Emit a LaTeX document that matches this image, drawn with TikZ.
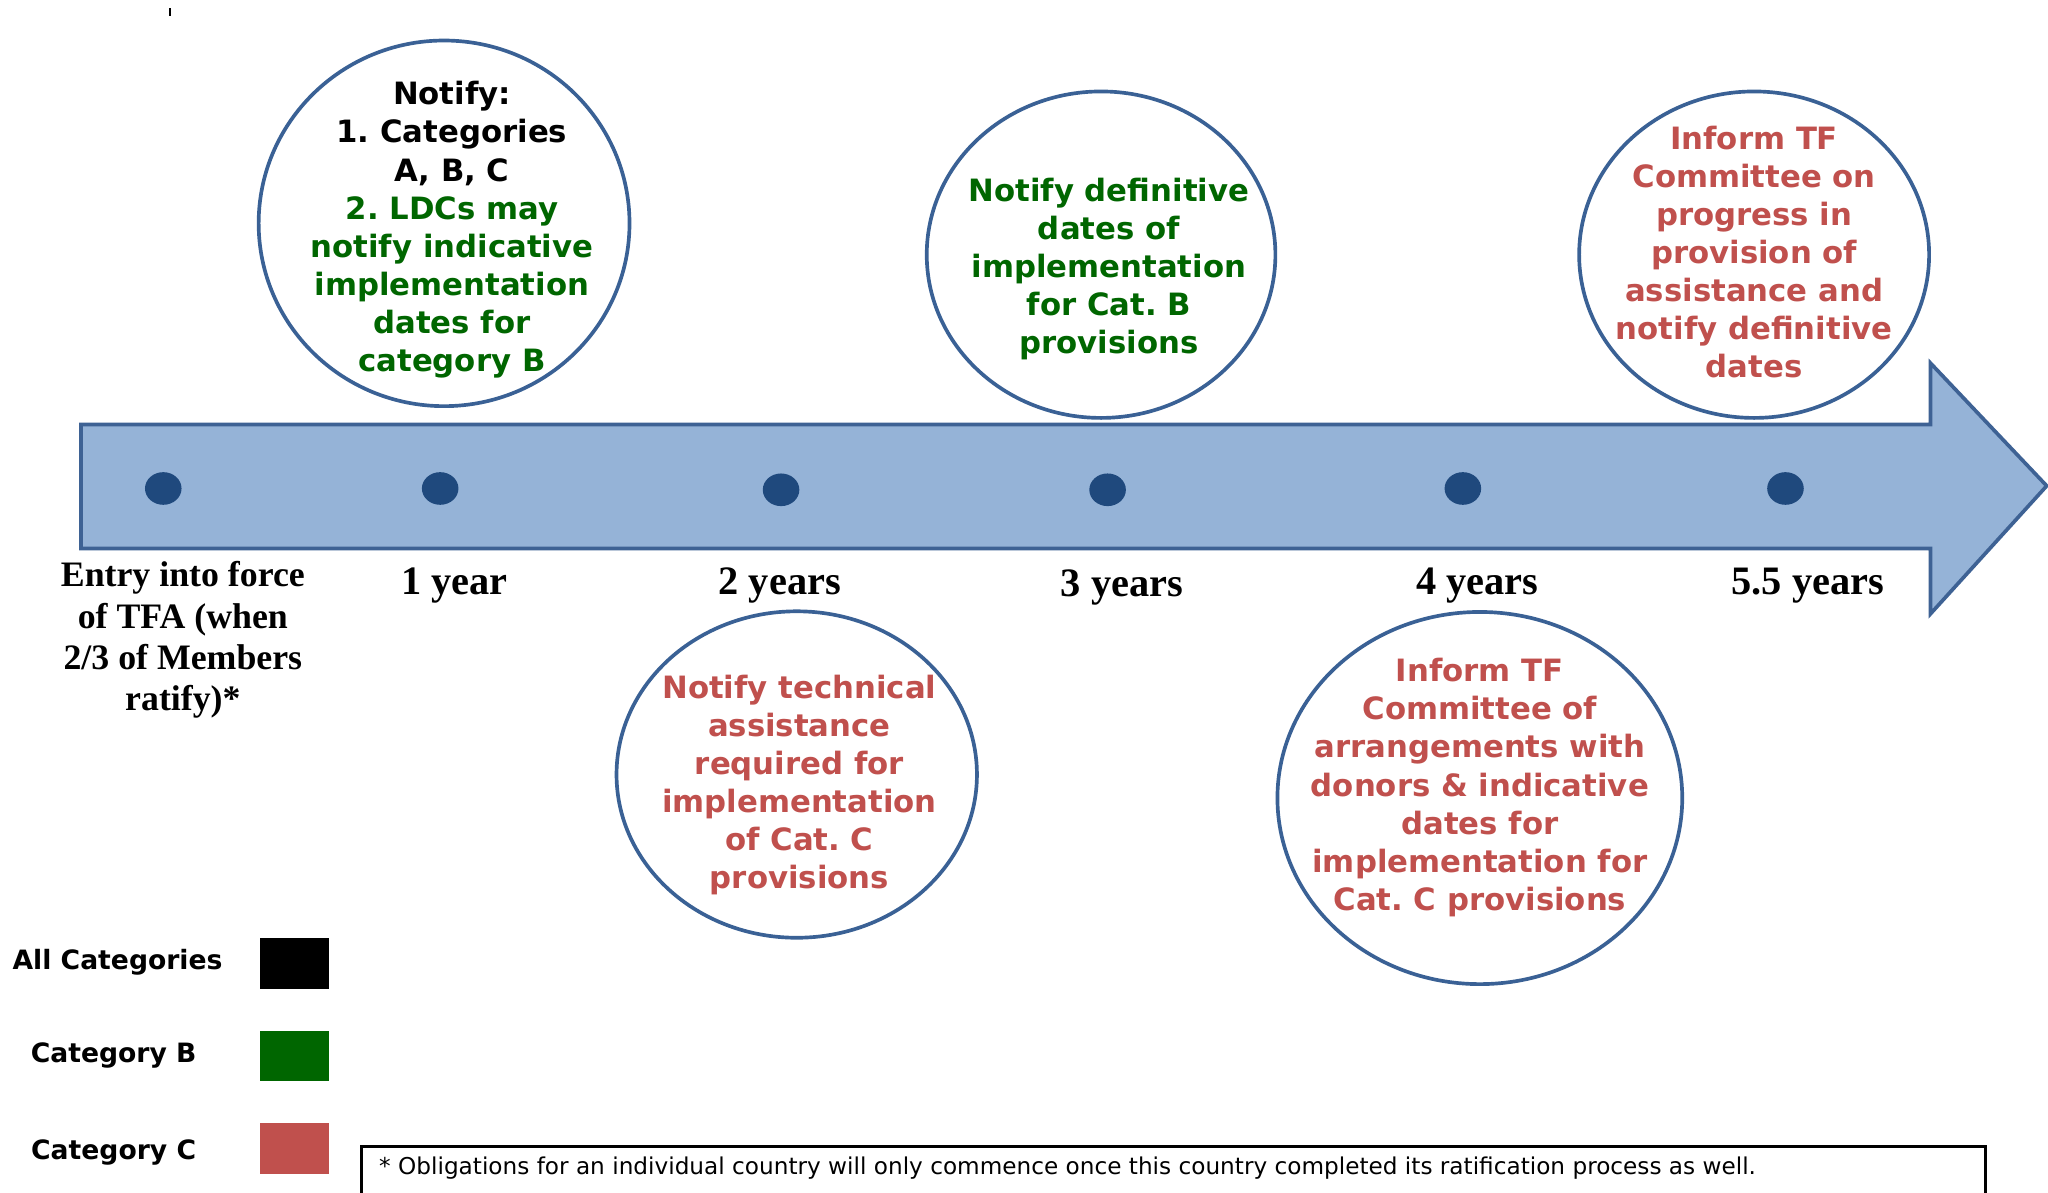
\documentclass[tikz,border=0pt]{standalone}
\usepackage{fontspec}
\setmainfont{Liberation Serif}
\newfontfamily\boxfont{DejaVu Sans}
\usetikzlibrary{shapes.geometric,positioning}
\definecolor{arrowfill}{HTML}{95B3D7}
\definecolor{arrowline}{HTML}{3E6294}
\definecolor{dotblue}{HTML}{1F497D}
\definecolor{ringblue}{HTML}{3A6195}
\definecolor{catB}{HTML}{006600}
\definecolor{catC}{HTML}{C0504D}
\tikzset{ring/.style={ellipse, draw=ringblue, line width=1.6pt, inner sep=0pt},
ringtext/.style={align=center, inner sep=0pt, font=\boxfont\bfseries\fontsize{13.4}{16.6}\selectfont},
tlpoint/.style={ellipse, fill=dotblue, minimum width=0.56cm, minimum height=0.5cm, inner sep=0pt},
yearlabel/.style={font=\bfseries\fontsize{17.6}{20}\selectfont},
legendbox/.style={minimum width=1.06cm, minimum height=0.78cm, inner sep=0pt},
legendtext/.style={font=\boxfont\bfseries\fontsize{11.6}{14}\selectfont}}
\frenchspacing

\begin{document}
\begin{tikzpicture}[x=0.02cm, y=0.02cm]
\useasboundingbox (0,0) rectangle (1568,913);
\fill[white] (0,0) rectangle (1568,913);
\draw[line width=0.8pt] (130,901) -- (130,907);

% the time line
\draw[draw=arrowline, fill=arrowfill, line width=1.6pt] (62,588) -- (1478,588) -- (1478,635) -- (1567,541) -- (1478,443) -- (1478,493) -- (62,493) -- cycle;

\node[tlpoint] (p0) at (125,539) {};
\node[tlpoint] (p1) at (337,539) {};
\node[tlpoint] (p2) at (598,538) {};
\node[tlpoint] (p3) at (848,538) {};
\node[tlpoint] (p4) at (1120,539) {};
\node[tlpoint] (p5) at (1367,539) {};

\node[align=center, font=\bfseries\fontsize{15.6}{18}\selectfont] (start) at (140,423) {Entry into force\\of TFA (when\\2/3 of Members\\ratify)*};
\node[yearlabel] (y1) at (348,465) {1 year};
\node[yearlabel] (y2) at (597,465) {2 years};
\node[yearlabel] (y3) at (859,463) {3 years};
\node[yearlabel] (y4) at (1131,465) {4 years};
\node[yearlabel] (y5) at (1384,465) {5.5 years};

% obligations above and below the line
\node[ring, minimum width=5.68cm, minimum height=5.6cm] (r1) at (340,742) {};
\node[ringtext, text=catB] (n1) at (346,737) {\textcolor{black}{Notify:}\\\textcolor{black}{1. Categories}\\\textcolor{black}{A, B, C}\\2. LDCs may\\notify indicative\\implementation\\dates for\\category B};

\node[ring, minimum width=5.34cm, minimum height=5cm] (r2) at (843,718) {};
\node[ringtext, text=catB] (n2) at (849,707) {Notify definitive\\dates of\\implementation\\for Cat. B\\provisions};

\node[ring, minimum width=5.36cm, minimum height=5cm] (r3) at (1343,718) {};
\node[ringtext, text=catC] (n3) at (1343,720) {Inform TF\\Committee on\\progress in\\provision of\\assistance and\\notify definitive\\dates};

\node[ring, minimum width=5.52cm, minimum height=5cm] (r4) at (610,320) {};
\node[ringtext, text=catC] (n4) at (612,312) {Notify technical\\assistance\\required for\\implementation\\of Cat. C\\provisions};

\node[ring, minimum width=6.2cm, minimum height=5.7cm] (r5) at (1133,302) {};
\node[ringtext, text=catC] (n5) at (1133,310) {Inform TF\\Committee of\\arrangements with\\donors \& indicative\\dates for\\implementation for\\Cat. C provisions};

% legend
\node[legendtext] (la) at (90,176) {All Categories};
\node[legendbox, fill=black] (ba) at (225.5,175) {};
\node[legendtext] (lb) at (87,105) {Category B};
\node[legendbox, fill=catB] (bb) at (225.5,104.5) {};
\node[legendtext] (lc) at (87,31) {Category C};
\node[legendbox, fill=catC] (bc) at (225.5,34) {};

% footnote
\draw[line width=1.2pt] (277,-10) -- (277,35) -- (1520,35) -- (1520,-10);
\node[anchor=west, inner sep=0pt, font=\boxfont\fontsize{10.1}{12}\selectfont] (note) at (290,19) {* Obligations for an individual country will only commence once this country completed its ratification process as well.};
\end{tikzpicture}
\end{document}
